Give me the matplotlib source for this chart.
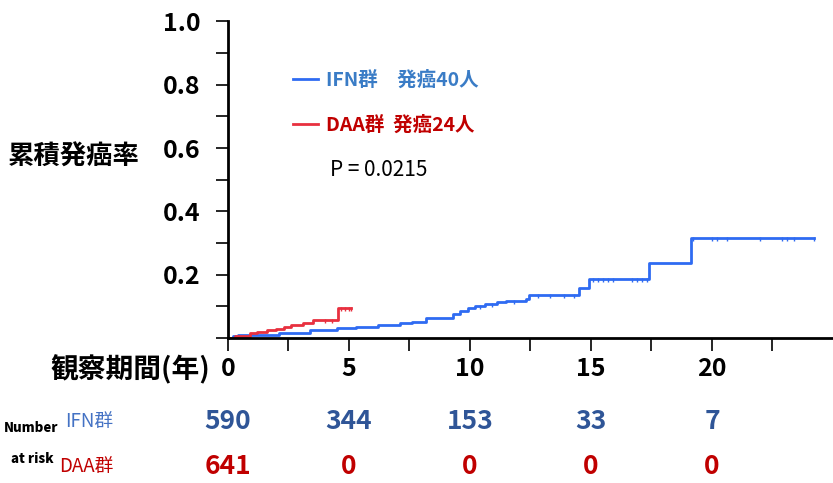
import numpy as np
import matplotlib
matplotlib.use("Agg")
from matplotlib import pyplot as plt
from matplotlib import transforms

plt.rcParams['font.family'] = ['Noto Sans CJK JP', 'DejaVu Sans']

# step points of the cumulative incidence curves (years, rate)
ifn_t = [0, 0.2, 0.4, 2.1, 3.4, 4.5, 5.3, 6.2, 7.1, 7.6, 8.2, 9.3, 9.6, 9.9,
         10.2, 10.6, 11.1, 11.5, 12.3, 12.45, 14.5, 14.9, 17.4, 19.15]
ifn_y = [0, 0.006, 0.01, 0.016, 0.025, 0.032, 0.036, 0.041, 0.047, 0.052,
         0.063, 0.075, 0.086, 0.095, 0.101, 0.108, 0.114, 0.118, 0.123,
         0.137, 0.159, 0.187, 0.237, 0.316]
ifn_end = 24.2
ifn_cens = [10.4, 10.9, 11.8, 12.8, 13.3, 13.9, 14.3, 15.1, 15.3, 15.5, 15.7,
            15.9, 16.7, 16.9, 17.1, 17.3, 19.2, 20.0, 20.2, 20.6, 22.0, 22.9,
            23.1, 23.4, 24.2]

daa_t = [0, 0.3, 0.9, 1.2, 1.6, 2.0, 2.3, 2.6, 3.1, 3.5, 4.55]
daa_y = [0, 0.005, 0.016, 0.02, 0.025, 0.03, 0.036, 0.041, 0.048, 0.057, 0.095]
daa_end = 5.1
daa_cens = [4.0, 4.3, 4.65, 4.85, 5.0, 5.1]

risk_times = [0, 5, 10, 15, 20]
ifn_risk = [590, 344, 153, 33, 7]
daa_risk = [641, 0, 0, 0, 0]

ifn_label = "IFN群　発癌40人"
daa_label = "DAA群  発癌24人"
p_text = "P = 0.0215"

blue = "#2f6bf2"
red = "#e8303f"


def step_value(ts, ys, x):
    i = np.searchsorted(ts, x, side="right") - 1
    return np.array(ys)[i]


fig = plt.figure(figsize=(8.33, 4.83), dpi=100)
ax = fig.add_axes([0.2737, 0.3002, 0.7263, 0.6553])

l1, = ax.step(ifn_t + [ifn_end], ifn_y + [ifn_y[-1]], where="post", color=blue, lw=2)
l2, = ax.step(daa_t + [daa_end], daa_y + [daa_y[-1]], where="post", color=red, lw=2)
ax.plot(ifn_cens, step_value(ifn_t, ifn_y, ifn_cens) - 0.004, ls="none",
        marker="|", color=blue, ms=3.5, mew=1.0)
ax.plot(daa_cens, step_value(daa_t, daa_y, daa_cens) - 0.004, ls="none",
        marker="|", color=red, ms=3.5, mew=1.0)

ax.set_xlim(0, 25)
ax.set_ylim(0, 1.0)
for s in ["top", "right"]:
    ax.spines[s].set_visible(False)
for s in ["left", "bottom"]:
    ax.spines[s].set_linewidth(2)

ax.set_yticks([0.2, 0.4, 0.6, 0.8, 1.0])
ax.set_yticklabels(["0.2", "0.4", "0.6", "0.8", "1.0"])
ax.set_yticks(np.arange(0, 1.01, 0.1), minor=True)
ax.set_xticks(risk_times)
ax.set_xticklabels([str(t) for t in risk_times])
ax.set_xticks(np.arange(2.5, 25, 5), minor=True)
ax.tick_params(which="both", direction="out", length=9, width=1.2)
ax.tick_params(axis="y", which="major", pad=11, labelsize=18)
ax.tick_params(axis="x", which="major", pad=5, labelsize=18)
for lab in ax.get_xticklabels() + ax.get_yticklabels():
    lab.set_fontweight("bold")

leg = ax.legend([l1, l2], [ifn_label, daa_label], loc="upper left",
                bbox_to_anchor=(0.078, 0.9), frameon=False,
                prop={"size": 14, "weight": "bold"},
                handlelength=1.3, handletextpad=0.4, labelspacing=1.3)
leg.get_texts()[0].set_color("#3a7cc6")
leg.get_texts()[1].set_color("#c00000")

ax.text(0.169, 0.532, p_text, transform=ax.transAxes, fontsize=15,
        va="center", ha="left", color="black")

fig.text(0.01, 0.675, "累積発癌率", fontsize=19, fontweight="bold",
         ha="left", va="center")
fig.text(0.252, 0.234, "観察期間(年)", fontsize=20, fontweight="bold",
         ha="right", va="center")

# number at risk table
tr = transforms.blended_transform_factory(ax.transData, fig.transFigure)
for t, n in zip(risk_times, ifn_risk):
    fig.text(t, 0.128, str(n), transform=tr, ha="center", va="center",
             fontsize=19, fontweight="bold", color="#2f5597")
for t, n in zip(risk_times, daa_risk):
    fig.text(t, 0.034, str(n), transform=tr, ha="center", va="center",
             fontsize=19, fontweight="bold", color="#c00000")
fig.text(0.136, 0.128, "IFN群", ha="right", va="center", fontsize=13.5,
         color="#4472c4")
fig.text(0.136, 0.034, "DAA群", ha="right", va="center", fontsize=13.5,
         color="#c00000")
fig.text(0.037, 0.114, "Number", ha="center", va="center", fontsize=9.5,
         fontweight="heavy")
fig.text(0.039, 0.050, "at risk", ha="center", va="center", fontsize=9.5,
         fontweight="heavy")

fig.savefig("out.png", dpi=100)
